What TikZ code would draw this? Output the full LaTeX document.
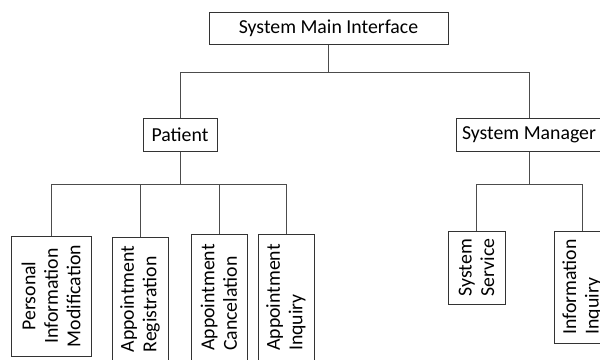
\documentclass[tikz,border=0pt]{standalone}
\usepackage{fontspec}
\setmainfont{Carlito}
\usetikzlibrary{positioning}

\begin{document}
\begin{tikzpicture}[x=1pt,y=-1pt,
  box/.style={draw=black!80,line width=1pt,inner sep=0pt,font=\fontsize{19.8}{22.5}\selectfont,text=black},
  vbox/.style={box,rotate=90,align=left},
  link/.style={draw=black!70,line width=1pt}]
  \useasboundingbox (0,0) rectangle (600,359);
  \clip (0,0) rectangle (600,359);
  % top level
  \node[box,minimum width=239pt,minimum height=32pt] (main) at (328.5,28) {System Main Interface};
  \node[box,minimum width=74pt,minimum height=33pt] (pat) at (180,134.5) {Patient};
  \node[box,minimum width=146pt,minimum height=33pt] (mgr) at (529,134.5) {System Manager};
  % patient side
  \node[vbox,align=center,minimum width=120pt,minimum height=80pt] (pim) at (51,296) {Personal\\Information\\Modification};
  \node[vbox,minimum width=124pt,minimum height=56pt] (reg) at (140,299) {Appointment\\Registration};
  \node[vbox,minimum width=127pt,minimum height=56pt] (can) at (219,297.5) {Appointment\\Cancelation};
  \node[vbox,minimum width=127pt,minimum height=56pt] (inq) at (286,297.5) {Appointment\\Inquiry};
  % manager side
  \node[vbox,minimum width=73pt,minimum height=57pt] (srv) at (476.5,267.5) {System\\Service};
  \node[vbox,minimum width=112pt,minimum height=56pt] (info) at (582,287) {Information\\Inquiry};
  % connectors
  \foreach \n in {pat,mgr}
    \draw[link] (main.south) -- +(0,28) -| (\n.north);
  \foreach \n in {pim,reg,can,inq}
    \draw[link] (pat.south) -- +(0,33) -| (\n.east);
  \foreach \n in {srv,info}
    \draw[link] (mgr.south) -- +(0,33) -| (\n.east);
\end{tikzpicture}
\end{document}
